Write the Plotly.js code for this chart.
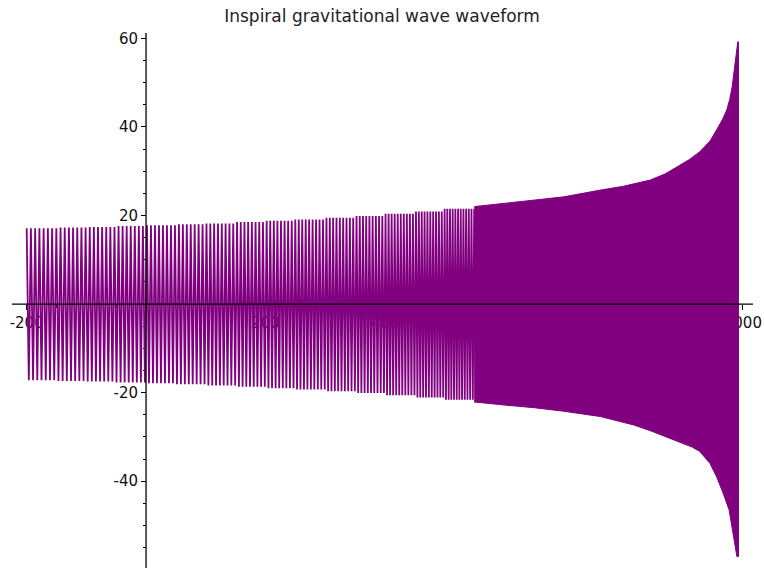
<!DOCTYPE html>
<html>
<head>
<meta charset="utf-8">
<script src="https://cdn.plot.ly/plotly-3.0.1.min.js"></script>
<style>html,body{margin:0;padding:0;background:#fff}#chart{width:764px;height:568px}</style>
</head>
<body>
<div id="chart"></div>
<script>
// Oscillating part: segments (start time, cycle period, peak values)
const segStart  = [-200,-150,-100,-50,0,50,100,150,200,250,300,350,400,450,500,550];
const segPeriod = [7.1,7.0,6.9,6.8,6.7,6.6,6.4,6.2,6.0,5.8,5.6,5.4,5.1,4.8,4.5,4.2];
const segUpper  = [17.1,17.3,17.4,17.6,17.8,18.0,18.2,18.5,18.8,19.1,19.5,19.9,20.4,20.9,21.5,22.1];
const segLower  = [-17.2,-17.4,-17.5,-17.7,-17.9,-18.1,-18.4,-18.7,-19.0,-19.3,-19.7,-20.1,-20.6,-21.1,-21.6,-22.2];
const segEnd = 600;

// Dense (unresolved) part near merger: envelope
const envUpperT = [550,600,650,700,760,800,845,870,890,910,928,945,956,966,973,978,982,985,987,990,991.5,992.6];
const envUpper  = [22.0,22.7,23.4,24.2,25.7,26.6,28.0,29.4,31.0,32.6,34.4,36.8,39.3,41.7,43.8,46.2,49.0,52.3,55.5,58.0,59.2,59.2];
const envLowerT = [550,600,650,700,761,817,845,873,900,915,928,945,956,967,977,982,986,990,992.6];
const envLower  = [-22.1,-22.8,-23.4,-24.2,-25.4,-27.3,-28.6,-30.0,-31.5,-32.3,-33.3,-36.0,-39.0,-42.7,-46.5,-50.3,-54.0,-57.0,-57.0];

const xTicks = [-200,200,400,600,800,1000];
const yTicks = [-40,-20,20,40,60];

// build alternating peaks
const wx = [], wy = [];
let t = segStart[0], k = 0;
while (t <= segEnd) {
  let i = 0;
  for (let j = 0; j < segStart.length; j++) if (segStart[j] <= t) i = j;
  wx.push(t);
  wy.push(k % 2 === 0 ? segUpper[i] : segLower[i]);
  t += segPeriod[i] / 2;
  k++;
}

const polyX = envUpperT.concat(envLowerT.slice().reverse());
const polyY = envUpper.concat(envLower.slice().reverse());

const purple = '#800080';
const traces = [
  {x: polyX, y: polyY, type: 'scatter', mode: 'lines', fill: 'toself',
   fillcolor: purple, line: {color: purple, width: 1}, hoverinfo: 'skip', showlegend: false},
  {x: wx, y: wy, type: 'scatter', mode: 'lines',
   line: {color: purple, width: 1.8}, showlegend: false}
];

const xr = [-224.6, 1017], yr = [-59.6, 61.2];
const font = {family: 'DejaVu Sans, sans-serif', size: 15, color: '#111'};
const layout = {
  width: 764, height: 568,
  margin: {l: 11.7, r: 11, t: 33, b: 0},
  paper_bgcolor: '#fff', plot_bgcolor: '#fff',
  title: {text: 'Inspiral gravitational wave waveform', font: {family: 'DejaVu Sans, sans-serif', size: 17, color: '#222'},
          xref: 'container', x: 0.5, xanchor: 'center', yref: 'container', y: 1 - 16/568, yanchor: 'middle'},
  xaxis: {range: xr, anchor: 'free', position: (0 - yr[0]) / (yr[1] - yr[0]),
          tickvals: xTicks, ticktext: xTicks.map(String), ticks: 'outside', ticklen: 5, tickwidth: 1, tickcolor: '#000',
          minor: {dtick: 50, tick0: 0, ticks: 'outside', ticklen: 3, tickcolor: '#000'},
          showgrid: false, zeroline: false, showline: false, layer: 'below traces', tickfont: font},
  yaxis: {range: yr, anchor: 'free', position: (0 - xr[0]) / (xr[1] - xr[0]),
          tickvals: yTicks, ticktext: yTicks.map(String), ticks: 'outside', ticklen: 5, tickwidth: 1, tickcolor: '#000',
          minor: {dtick: 5, tick0: 0, ticks: 'outside', ticklen: 3, tickcolor: '#000'},
          showgrid: false, zeroline: false, showline: false, layer: 'below traces', tickfont: font},
  shapes: [
    {type: 'line', xref: 'paper', x0: 0, x1: 1, yref: 'y', y0: 0, y1: 0, line: {color: '#000', width: 1.3}, layer: 'above'},
    {type: 'line', xref: 'x', x0: 0, x1: 0, yref: 'paper', y0: 0, y1: 1, line: {color: '#000', width: 1.3}, layer: 'above'}
  ]
};
Plotly.newPlot('chart', traces, layout, {staticPlot: true});
</script>
</body>
</html>
